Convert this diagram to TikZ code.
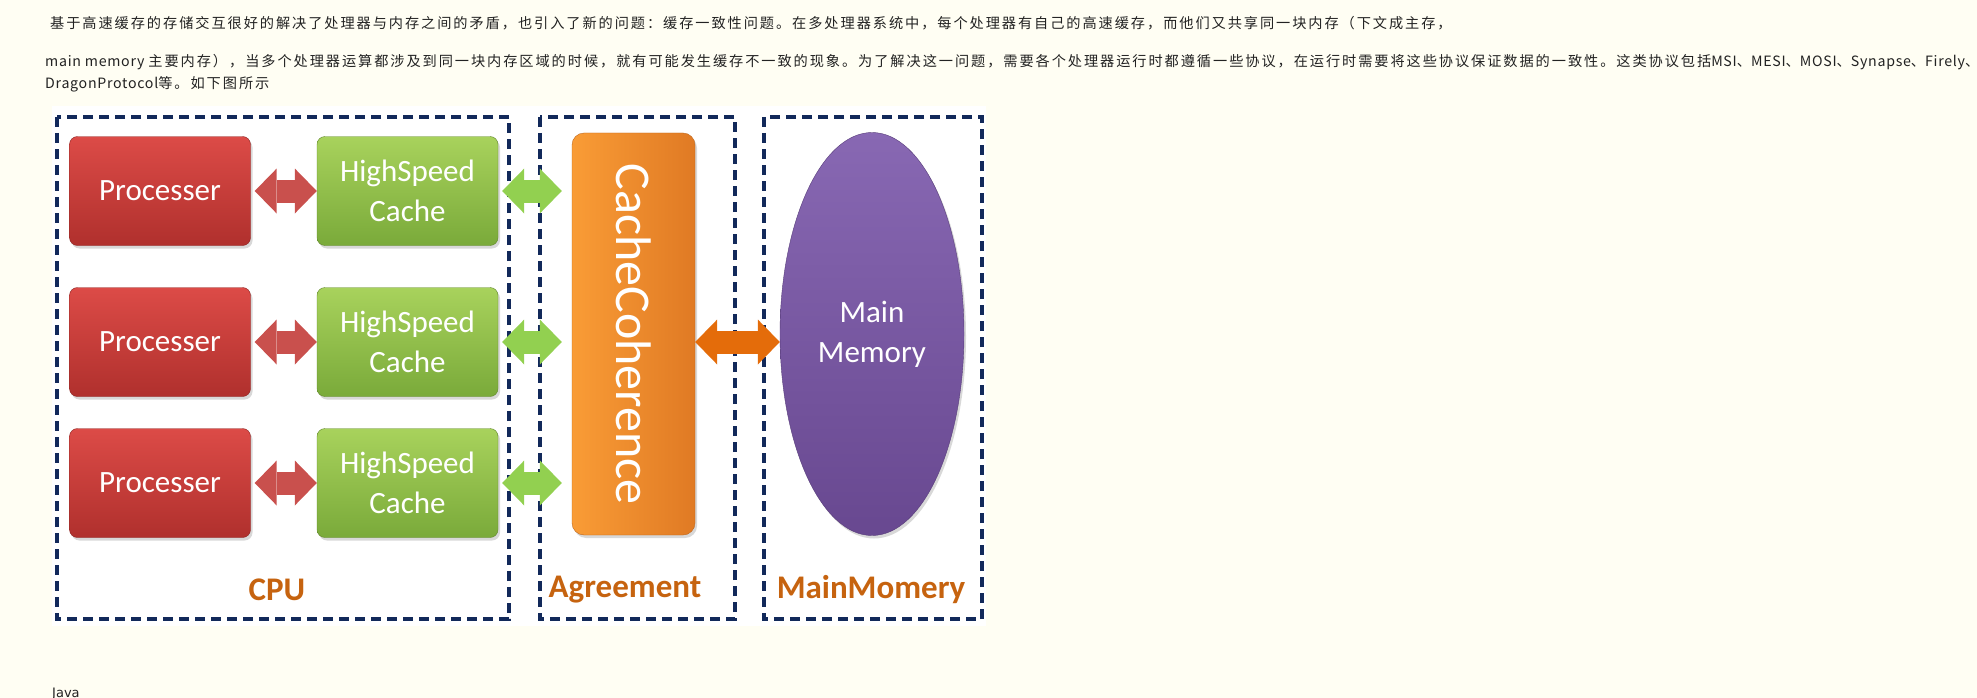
\documentclass[tikz,border=0pt]{standalone}
\usepackage{fontspec}
\setmainfont{Carlito}
\newfontfamily\cjk[LetterSpace=13.6]{Noto Sans CJK SC}
\newfontfamily\cjklatin[LetterSpace=5]{Noto Sans CJK SC}
\newcommand\lat[1]{{\cjklatin#1}}
\newfontfamily\javafont{DejaVu Sans}
\usepackage{xcolor}
\usetikzlibrary{arrows.meta,shapes.geometric,shadows}

\definecolor{pagebg}{HTML}{FFFEF3}
\definecolor{navy}{HTML}{12295A}
\definecolor{redtop}{HTML}{DC4B47}
\definecolor{redbot}{HTML}{B0302D}
\definecolor{greentop}{HTML}{A8D25C}
\definecolor{greenbot}{HTML}{7AAA3A}
\definecolor{orangetop}{HTML}{F99C36}
\definecolor{orangebot}{HTML}{E07A24}
\definecolor{purpletop}{HTML}{8868B3}
\definecolor{purplebot}{HTML}{684890}
\definecolor{redarrow}{HTML}{C9504D}
\definecolor{greenarrow}{HTML}{92D050}
\definecolor{orangearrow}{HTML}{E46C0A}
\definecolor{labelcol}{HTML}{C6630F}
\definecolor{txt}{HTML}{222222}

\tikzset{
  para/.style={anchor=base west,inner sep=0pt,text=txt,font=\cjk\fontsize{14.2}{17}\selectfont},
  groupbox/.style={draw=navy,line width=4pt,dash pattern=on 10pt off 6pt},
  box/.style={rounded corners=8pt,minimum width=181pt,minimum height=109pt,inner sep=0pt,
    text=white,align=center,font=\fontsize{31}{40}\selectfont,
    drop shadow={shadow xshift=2pt,shadow yshift=-3pt,opacity=.3}},
  procbox/.style={box,top color=redtop,bottom color=redbot,draw=redbot!80!black},
  cachebox/.style={box,top color=greentop,bottom color=greenbot,draw=greenbot!80!black},
  blockarrow/.style={line width=23pt,
    {Triangle[length=22pt,width=45pt,line width=0pt]}-{Triangle[length=22pt,width=45pt,line width=0pt]}},
  grouplabel/.style={text=labelcol,font=\bfseries\fontsize{33}{40}\selectfont}
}

\begin{document}
\begin{tikzpicture}[x=1pt,y=-1pt]
\fill[pagebg](0,0) rectangle (1977,698);
\useasboundingbox (0,0) rectangle (1977,698);

\node[para] (line1) at (50,28.5){基于高速缓存的存储交互很好的解决了处理器与内存之间的矛盾，也引入了新的问题：缓存一致性问题。在多处理器系统中，每个处理器有自己的高速缓存，而他们又共享同一块内存（下文成主存，};
\node[para] (line2) at (45,67){\lat{main memory }主要内存），当多个处理器运算都涉及到同一块内存区域的时候，就有可能发生缓存不一致的现象。为了解决这一问题，需要各个处理器运行时都遵循一些协议，在运行时需要将这些协议保证数据的一致性。这类协议包括\lat{MSI}、\lat{MESI}、\lat{MOSI}、\lat{Synapse}、\lat{Firely}、};
\node[para] (line3) at (45,89){\lat{DragonProtocol}等。如下图所示};

\fill[white](52,106) rectangle (986,626);

\draw[groupbox](57,117) rectangle (509,619);
\draw[groupbox](540,117) rectangle (735,619);
\draw[groupbox](764,117) rectangle (982,619);

\node[rotate=-90,rounded corners=12pt,minimum width=402pt,minimum height=123pt,
  left color=orangetop,right color=orangebot,draw=orangebot!85!black,text=white,
  font=\fontsize{50}{60}\selectfont,
  drop shadow={shadow xshift=2pt,shadow yshift=-3pt,opacity=.3}] (coh) at (633.5,334){CacheCoherence};

\node[ellipse,minimum width=184pt,minimum height=403pt,top color=purpletop,bottom color=purplebot,
  draw=purplebot!85!black,text=white,align=center,font=\fontsize{31}{40}\selectfont,
  drop shadow={shadow xshift=2pt,shadow yshift=-3pt,opacity=.3}] (mem) at (872,334){Main\\Memory};

\foreach\i/\y in {1/191,2/342,3/483}{
	\node[procbox] (p\i) at (160,\y){Processer};
	\node[cachebox] (c\i) at (407.5,\y){HighSpeed\\Cache};
	\draw[blockarrow,redarrow,shorten <=4pt](p\i.east)--(c\i.west);
	\draw[blockarrow,greenarrow,shorten <=4pt,shorten >=10pt](c\i.east)--(c\i.east -| coh.south);
}

\draw[blockarrow,orangearrow](coh.north |- c2.east)--(mem.west |- c2.east);

\node[grouplabel] (cpulabel) at (277,590){CPU};
\node[grouplabel] (agreelabel) at (625,590){Agreement};
\node[grouplabel] (memlabel) at (871,590){MainMomery};

\node[anchor=base west,inner sep=0pt,text=txt,font=\javafont\fontsize{13}{15}\selectfont] (java) at (52,697){Java};
\end{tikzpicture}
\end{document}
